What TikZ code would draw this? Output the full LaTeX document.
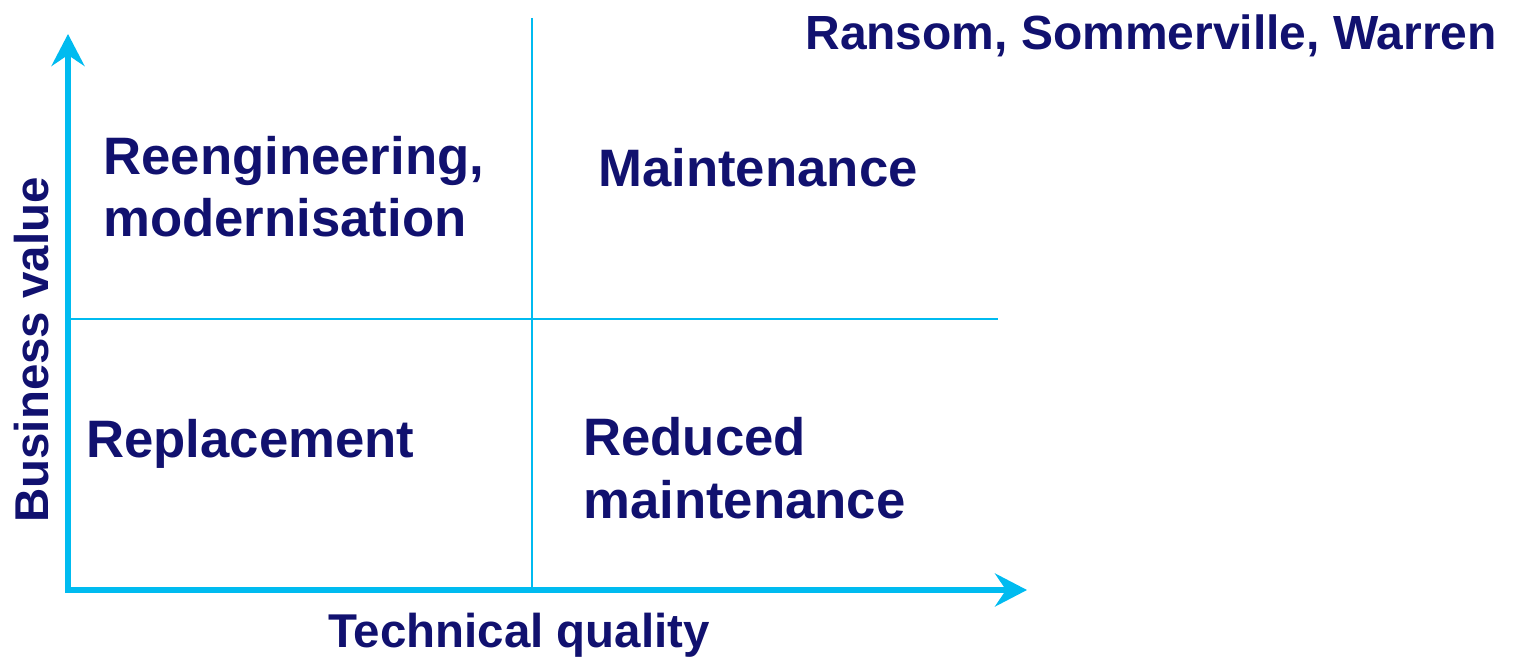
\documentclass[tikz,border=0pt]{standalone}
\usepackage{fontspec}
\setmainfont{Liberation Sans}
\usetikzlibrary{arrows.meta}
\definecolor{navy}{RGB}{17,17,111}
\definecolor{skyline}{RGB}{0,187,240}
\tikzset{
  quadtext/.style={anchor=base west,inner sep=0pt,text=navy,align=left,
    font=\fontsize{30}{35.5}\selectfont\bfseries},
  axistext/.style={anchor=base,inner sep=0pt,text=navy,
    font=\fontsize{27}{32}\selectfont\bfseries},
  divider/.style={draw=skyline,line width=0.85pt}
}
\begin{document}
\begin{tikzpicture}[x=0.02cm,y=-0.02cm,>={Stealth[length=0.64cm,width=0.66cm,inset=0.22cm]}]
\useasboundingbox (0,0) rectangle (1514,658);
\coordinate (o) at (68,590);
\coordinate (ytip) at (68,34);
\coordinate (xtip) at (1027,590);
\coordinate (vtop) at (532,18);
\coordinate (vbot) at (532,588);
\coordinate (hleft) at (71,319);
\coordinate (hright) at (998,319);
\draw [divider] (vtop) -- (vbot);
\draw [divider] (hleft) -- (hright);
\draw [<->,draw=skyline,line width=3.4pt,line join=miter] (ytip) -- (o) -- (xtip);
\node (reeng) at (103,237) [quadtext] {Reengineering,\\modernisation};
\node (maint) at (598,187) [quadtext] {Maintenance};
\node (repl) at (86,457) [quadtext] {Replacement};
\node (reduced) at (583,518) [quadtext] {Reduced\\maintenance};
\node (tq) at (519,647) [axistext] {Technical quality};
\node (bv) at (49,350) [axistext,rotate=90] {Business value};
\node (authors) at (1497,50) [axistext,anchor=base east,font=\fontsize{27.3}{32}\selectfont\bfseries] {Ransom, Sommerville, Warren};
\end{tikzpicture}
\end{document}
